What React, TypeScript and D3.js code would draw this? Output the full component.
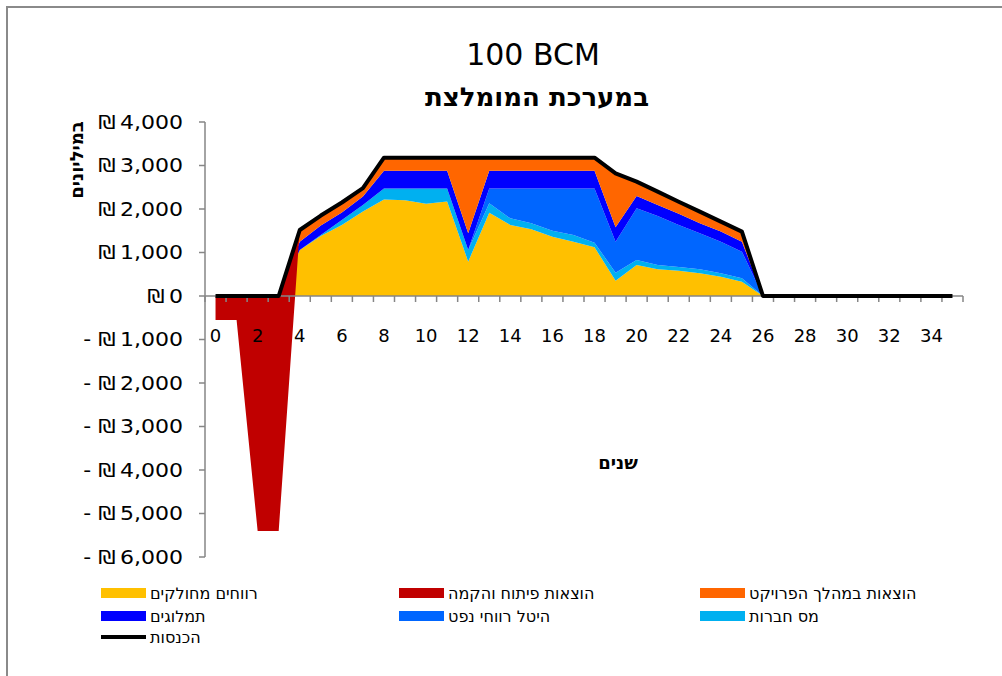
import * as d3 from 'd3';
import { useEffect, useRef } from 'react';

// years on the x axis (category axis)
const years = [0, 1, 2, 3, 4, 5, 6, 7, 8, 9, 10, 11, 12, 13, 14, 15, 16, 17, 18, 19, 20, 21, 22, 23, 24, 25, 26, 27, 28, 29, 30, 31, 32, 33, 34, 35];

// series values, millions of shekels
const profits = [0, 0, 0, 0, 1057, 1380, 1630, 1940, 2220, 2200, 2120, 2170, 790, 1915, 1632, 1533, 1360, 1250, 1120, 352, 713, 613, 580, 521, 445, 330, 0, 0, 0, 0, 0, 0, 0, 0, 0, 0];
const corpTax = [0, 0, 0, 0, 0, 20, 120, 150, 250, 270, 350, 300, 267, 215, 153, 137, 140, 150, 105, 183, 115, 100, 87, 92, 76, 77, 0, 0, 0, 0, 0, 0, 0, 0, 0, 0];
const levy = [0, 0, 0, 0, 0, 0, 0, 0, 0, 0, 0, 0, 0, 340, 685, 800, 970, 1070, 1245, 715, 1187, 1127, 965, 827, 729, 613, 0, 0, 0, 0, 0, 0, 0, 0, 0, 0];
const royalties = [0, 0, 0, 0, 193, 220, 170, 200, 410, 410, 410, 410, 383, 410, 410, 410, 410, 410, 410, 328, 285, 250, 258, 230, 230, 230, 0, 0, 0, 0, 0, 0, 0, 0, 0, 0];
const opex = [0, 0, 0, 0, 267, 230, 230, 190, 300, 300, 300, 300, 1740, 300, 300, 300, 300, 300, 300, 1242, 328, 310, 278, 270, 230, 230, 0, 0, 0, 0, 0, 0, 0, 0, 0, 0];
const devCost = [-550, -550, -5400, -5400, 0, 0, 0, 0, 0, 0, 0, 0, 0, 0, 0, 0, 0, 0, 0, 0, 0, 0, 0, 0, 0, 0, 0, 0, 0, 0, 0, 0, 0, 0, 0, 0];
const revenues = [0, 0, 0, 0, 1517, 1850, 2150, 2480, 3180, 3180, 3180, 3180, 3180, 3180, 3180, 3180, 3180, 3180, 3180, 2820, 2628, 2400, 2168, 1940, 1710, 1480, 0, 0, 0, 0, 0, 0, 0, 0, 0, 0];

const yTicks = [-6000, -5000, -4000, -3000, -2000, -1000, 0, 1000, 2000, 3000, 4000];
const xLabels = [0, 2, 4, 6, 8, 10, 12, 14, 16, 18, 20, 22, 24, 26, 28, 30, 32, 34];

// stacking order bottom -> top (red last, like the excel sheet)
const seriesKeys = ['profits', 'corpTax', 'levy', 'royalties', 'opex', 'devCost'];
const seriesValues: Record<string, number[]> = { profits, corpTax, levy, royalties, opex, devCost };
const colors: Record<string, string> = {
  profits: '#FFC000',
  corpTax: '#00B0F0',
  levy: '#0066FF',
  royalties: '#0000FF',
  opex: '#FF6600',
  devCost: '#C00000',
};

// legend, row by row
const legendItems = [
  { key: 'profits', label: 'רווחים מחולקים' },
  { key: 'devCost', label: 'הוצאות פיתוח והקמה' },
  { key: 'opex', label: 'הוצאות במהלך הפרויקט' },
  { key: 'royalties', label: 'תמלוגים' },
  { key: 'levy', label: 'היטל רווחי נפט' },
  { key: 'corpTax', label: 'מס חברות' },
  { key: 'revenues', label: 'הכנסות' },
];

const FONT = '"DejaVu Sans", "Liberation Sans", Arial, sans-serif';

export default function App() {
  const ref = useRef<SVGSVGElement>(null);

  useEffect(() => {
    const svg = d3.select(ref.current);
    svg.selectAll('*').remove();

    const left = 205, right = 963, top = 122, bottom = 557;

    const x = d3.scalePoint<number>().domain(years).range([left, right]).padding(0.5);
    const step = x.step();
    const y = d3.scaleLinear().domain([-6000, 4000]).range([bottom, top]);

    // frame
    svg.append('rect')
      .attr('x', 7).attr('y', 7).attr('width', 1100).attr('height', 800)
      .attr('fill', 'white').attr('stroke', '#8a8a8a').attr('stroke-width', 2);

    // titles
    svg.append('text')
      .attr('x', 533).attr('y', 65)
      .attr('text-anchor', 'middle')
      .style('font', `30px ${FONT}`)
      .text('100 BCM');
    svg.append('text')
      .attr('x', 537).attr('y', 106)
      .attr('text-anchor', 'middle')
      .style('font', `bold 26px ${FONT}`)
      .text('במערכת המומלצת');

    // stacked areas (cumulative, sign ignored - same as excel)
    const table = years.map((yr, i) => {
      const row: any = { year: yr };
      seriesKeys.forEach(k => (row[k] = seriesValues[k][i]));
      return row;
    });
    const stacked = d3.stack<any>().keys(seriesKeys).offset(d3.stackOffsetNone)(table);

    const area = d3.area<any>()
      .x(d => x(d.data.year)!)
      .y0(d => y(d[0]))
      .y1(d => y(d[1]));

    svg.append('g')
      .selectAll('path')
      .data(stacked)
      .join('path')
      .attr('fill', d => colors[d.key])
      .attr('d', area);

    // axes
    const axisColor = '#868686';
    const ax = svg.append('g').attr('stroke', axisColor).attr('stroke-width', 1.5);
    ax.append('line').attr('x1', left).attr('x2', left).attr('y1', top).attr('y2', bottom);
    ax.selectAll('.yt').data(yTicks).join('line')
      .attr('x1', left - 6).attr('x2', left).attr('y1', d => y(d)).attr('y2', d => y(d));
    ax.append('line').attr('x1', left).attr('x2', right).attr('y1', y(0)).attr('y2', y(0));
    ax.selectAll('.xt').data(d3.range(years.length + 1)).join('line')
      .attr('x1', k => left + k * step).attr('x2', k => left + k * step)
      .attr('y1', y(0)).attr('y2', y(0) + 6);

    // y labels are a bit wider in the original - stretch horizontally
    const fmt = d3.format(',d');
    svg.append('g')
      .selectAll('text')
      .data(yTicks)
      .join('text')
      .attr('transform', d => `translate(183,${y(d)}) scale(1.16,1)`)
      .attr('dy', '0.36em')
      .attr('text-anchor', 'end')
      .style('font', `19px ${FONT}`)
      .text(d => (d < 0 ? '- ₪\u2009' + fmt(-d) : '₪\u2009' + fmt(d)));

    svg.append('g')
      .selectAll('text')
      .data(xLabels)
      .join('text')
      .attr('x', d => x(d)!)
      .attr('y', 342)
      .attr('text-anchor', 'middle')
      .style('font', `18px ${FONT}`)
      .text(d => d);

    // revenue line on top
    const line = d3.line<number>()
      .x((d, i) => x(years[i])!)
      .y(d => y(d));
    svg.append('path')
      .datum(revenues)
      .attr('fill', 'none')
      .attr('stroke', 'black')
      .attr('stroke-width', 4)
      .attr('stroke-linejoin', 'round')
      .attr('d', line);

    // axis titles
    svg.append('text')
      .attr('transform', 'translate(77,160) rotate(-90)')
      .attr('text-anchor', 'middle')
      .attr('dy', '0.35em')
      .style('font', `bold 18px ${FONT}`)
      .text('במיליונים');
    svg.append('text')
      .attr('x', 618).attr('y', 463)
      .attr('text-anchor', 'middle')
      .attr('dy', '0.35em')
      .style('font', `bold 18px ${FONT}`)
      .text('שנים');

    // legend
    const colX = [101, 399, 700];
    const rowY = [593, 616, 637];
    const lg = svg.append('g')
      .selectAll('g')
      .data(legendItems)
      .join('g')
      .attr('transform', (d, i) => `translate(${colX[i % 3]},${rowY[Math.floor(i / 3)]})`);
    lg.filter(d => d.key !== 'revenues')
      .append('rect')
      .attr('x', 0).attr('y', -5).attr('width', 45).attr('height', 10)
      .attr('fill', d => colors[d.key]);
    lg.filter(d => d.key === 'revenues')
      .append('line')
      .attr('x1', 0).attr('x2', 45).attr('y1', 0).attr('y2', 0)
      .attr('stroke', 'black').attr('stroke-width', 4);
    lg.append('text')
      .attr('x', 49)
      .attr('dy', '0.35em')
      .style('font', `16px ${FONT}`)
      .text(d => d.label);
  }, []);

  return (
    <svg
      ref={ref}
      width={1002}
      height={676}
      style={{ position: 'absolute', left: 0, top: 0, background: 'white' }}
    />
  );
}
